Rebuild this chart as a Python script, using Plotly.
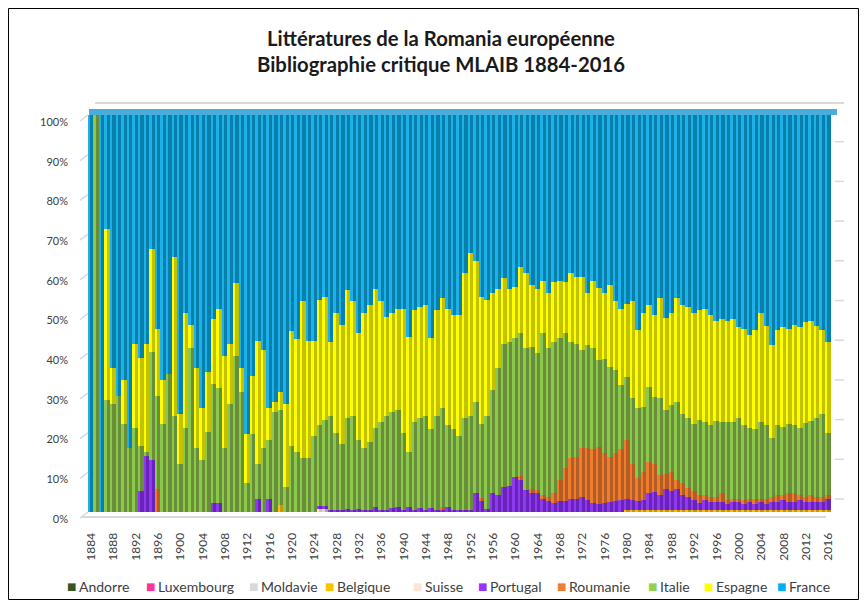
import plotly.graph_objects as go

# ---------------- data (share of records per year, %) ----------------
years = list(range(1884, 2017))

year_ticks = [1884, 1888, 1892, 1896, 1900, 1904, 1908, 1912, 1916, 1920, 1924,
              1928, 1932, 1936, 1940, 1944, 1948, 1952, 1956, 1960, 1964, 1968,
              1972, 1976, 1980, 1984, 1988, 1992, 1996, 2000, 2004, 2008, 2012, 2016]

pct_ticks = [0, 10, 20, 30, 40, 50, 60, 70, 80, 90, 100]
pct_labels = ["0%", "10%", "20%", "30%", "40%", "50%", "60%", "70%", "80%", "90%", "100%"]

andorre = [
    0, 0, 0, 0, 0, 0, 0, 0, 0, 0,
    0, 0, 0, 0, 0, 0, 0, 0, 0, 0,
    0, 0, 0, 0, 0, 0, 0, 0, 0, 0,
    0, 0, 0, 0, 0, 0, 0, 0, 0, 0,
    0, 0, 0, 0, 0, 0, 0, 0, 0, 0,
    0, 0, 0, 0, 0, 0, 0, 0, 0, 0,
    0, 0, 0, 0, 0, 0, 0, 0, 0, 0,
    0, 0, 0, 0, 0, 0, 0, 0, 0, 0,
    0, 0, 0, 0, 0, 0, 0, 0, 0, 0,
    0, 0, 0, 0, 0, 0, 0, 0, 0, 0,
    0, 0, 0, 0, 0, 0, 0, 0, 0, 0,
    0, 0, 0, 0, 0, 0, 0, 0, 0, 0,
    0, 0, 0, 0, 0, 0, 0, 0, 0, 0,
    0, 0, 0]

luxembourg = [
    0, 0, 0, 0, 0, 0, 0, 0, 0, 0,
    0, 0, 0, 0, 0, 0, 0, 0, 0, 0,
    0, 0, 0, 0, 0, 0, 0, 0, 0, 0,
    0, 0, 0, 0, 0, 0, 0, 0, 0, 0,
    0, 0, 0, 0, 0, 0, 0, 0, 0, 0,
    0, 0, 0, 0, 0, 0, 0, 0, 0, 0,
    0, 0, 0, 0, 0, 0, 0, 0, 0, 0,
    0, 0, 0, 0, 0, 0, 0, 0, 0, 0,
    0, 0, 0, 0, 0, 0, 0, 0, 0, 0,
    0, 0, 0, 0, 0, 0, 0, 0, 0, 0,
    0, 0, 0, 0, 0, 0, 0, 0, 0, 0,
    0, 0, 0, 0, 0, 0, 0, 0, 0, 0,
    0, 0, 0, 0, 0, 0, 0, 0, 0, 0,
    0, 0, 0]

moldavie = [
    0, 0, 0, 0, 0, 0, 0, 0, 0, 0,
    0, 0, 0, 0, 0, 0, 0, 0, 0, 0,
    0, 0, 0, 0, 0, 0, 0, 0, 0, 0,
    0, 0, 0, 0, 0, 0, 0, 0, 0, 0,
    0, 0, 0.8, 0, 0, 0, 0, 0, 0, 0,
    0, 0, 0, 0, 0, 0, 0, 0, 0, 0,
    0, 0, 0, 0, 0, 0, 0, 0, 0, 0,
    0, 0, 0, 0, 0, 0, 0, 0, 0, 0,
    0, 0, 0, 0, 0, 0, 0, 0, 0, 0,
    0, 0, 0, 0, 0, 0, 0, 0, 0, 0,
    0, 0, 0, 0, 0, 0, 0, 0, 0, 0,
    0, 0, 0, 0, 0, 0, 0, 0, 0, 0,
    0, 0, 0, 0, 0, 0, 0, 0, 0, 0,
    0, 0, 0]

belgique = [
    0, 0, 0, 0, 0, 0, 0, 0, 0, 0,
    0, 0, 0, 0, 0, 0, 0, 0, 0, 0,
    0, 0, 0, 0, 0, 0, 0, 0, 0, 0,
    0, 0, 0, 0, 1.8, 0, 0, 0, 0, 0,
    0, 0, 0, 0, 0, 0, 0, 0, 0, 0,
    0, 0, 0, 0, 0, 0, 0, 0, 0, 0,
    0, 0, 0, 0, 0, 0, 0, 0, 0, 0,
    0, 0, 0, 0, 0, 0, 0, 0, 0, 0,
    0, 0, 0, 0, 0, 0, 0, 0, 0, 0,
    0, 0, 0, 0, 0, 0, 0.4, 0.4, 0.4, 0.4,
    0.4, 0.4, 0.4, 0.4, 0.4, 0.4, 0.4, 0.4, 0.4, 0.4,
    0.4, 0.4, 0.4, 0.4, 0.4, 0.4, 0.4, 0.4, 0.4, 0.4,
    0.4, 0.4, 0.4, 0.4, 0.4, 0.4, 0.4, 0.4, 0.4, 0.4,
    0.4, 0.4, 0.4]

suisse = [
    0, 0, 0, 0, 0, 0, 0, 0, 0, 0,
    0, 0, 0, 0, 0, 0, 0, 0, 0, 0,
    0, 0, 0, 0, 0, 0, 0, 0, 0, 0,
    0, 0, 0, 0, 0, 0, 0, 0, 0, 0,
    0, 0.8, 0, 0, 0, 0, 0, 0, 0, 0,
    0, 0, 0, 0, 0, 0, 0, 0, 0, 0,
    0, 0, 0, 0, 0, 0, 0, 0, 0, 0,
    0, 0, 0, 0, 0, 0, 0, 0, 0, 0,
    0, 0, 0, 0, 0, 0, 0, 0, 0, 0,
    0, 0, 0, 0, 0, 0, 0, 0, 0, 0,
    0, 0, 0, 0, 0, 0, 0, 0, 0, 0,
    0, 0, 0, 0, 0, 0, 0, 0, 0, 0,
    0, 0, 0, 0, 0, 0, 0, 0, 0, 0,
    0, 0, 0]

portugal = [
    0, 0, 0, 0, 0, 0, 0, 0, 0, 5.2,
    14.2, 13.2, 0, 0, 0, 0, 0, 0, 0, 0,
    0, 0, 2.2, 2.2, 0, 0, 0, 0, 0, 0,
    3.2, 0, 3.2, 0, 0, 0, 0, 0, 0, 0,
    0, 0.8, 0.6, 0.6, 0.6, 0.6, 0.8, 0.6, 0.8, 0.6,
    0.6, 1.2, 0.6, 0.6, 1.0, 1.3, 0.6, 1.3, 0.6, 1.0,
    0.6, 1.0, 0.6, 0.4, 1.3, 0.6, 0.6, 0.6, 0.6, 4.7,
    3.0, 0.8, 4.7, 4.2, 6.2, 6.5, 8.8, 8.0, 5.5, 4.7,
    4.7, 3.2, 2.7, 2.2, 2.7, 2.7, 3.2, 3.2, 3.8, 3.0,
    2.2, 2.0, 2.2, 2.4, 2.7, 3.0, 3.0, 2.6, 2.3, 2.6,
    4.3, 4.6, 3.8, 5.5, 5.0, 5.5, 3.8, 3.4, 2.6, 1.8,
    2.5, 2.0, 2.0, 2.0, 1.5, 2.0, 2.0, 1.5, 2.0, 1.5,
    2.0, 1.5, 2.0, 2.0, 2.5, 2.0, 2.0, 2.5, 2.0, 2.0,
    2.0, 2.0, 3.0]

roumanie = [
    0, 0, 0, 0, 0, 0, 0, 0, 0, 0,
    0, 0, 5.7, 0, 0, 0, 0, 0, 0, 0,
    0, 0, 0, 0, 0, 0, 0, 0, 0, 0,
    0, 0, 0, 0, 0, 0, 0, 0, 0, 0,
    0, 0, 0, 0, 0, 0, 0, 0, 0, 0,
    0, 0, 0, 0, 0, 0, 0, 0, 0, 0,
    0, 0, 0, 0.8, 0, 0, 0, 0, 0, 0,
    0.5, 0, 0, 0, 0, 0, 0, 1.0, 0, 1.0,
    0.8, 1.0, 1.0, 2.5, 5.3, 8.5, 10.4, 10.6, 12.3, 13.2,
    13.6, 14.3, 12.6, 11.4, 12.1, 12.8, 14.7, 9.2, 5.8, 7.1,
    7.9, 7.2, 5.0, 3.6, 4.8, 2.1, 3.0, 2.2, 2.2, 2.0,
    1.5, 1.5, 1.5, 2.5, 1.0, 1.0, 1.0, 1.0, 1.0, 1.5,
    1.0, 1.5, 1.5, 2.0, 1.5, 2.5, 2.5, 1.5, 1.5, 2.0,
    1.5, 1.5, 1.0]

italie = [
    0, 100, 0, 28.2, 27.2, 29.2, 22.2, 16.2, 21.2, 11.5,
    1, 27, 23.5, 22.2, 34.7, 24.2, 12.2, 21.2, 41.2, 16.2,
    13.2, 20.2, 30, 29, 16.2, 27.2, 39.2, 30.2, 7.2, 19.7,
    9, 16.2, 15, 25.2, 24, 6.2, 16.7, 15.2, 13.7, 13.7,
    19.2, 20.2, 21.8, 23.6, 19.2, 16.6, 22.8, 23.6, 17.4, 15.6,
    17, 20, 22.1, 23.6, 24.2, 24.4, 19.2, 13.9, 22.1, 22.8,
    23.6, 19.8, 23.6, 25, 20.7, 20.4, 18.6, 23, 23.6, 23,
    18.7, 23.5, 26, 32, 36, 36.2, 35, 36, 35.7, 35.8,
    34.5, 40.8, 37.5, 38, 35.8, 33.8, 29.1, 28.4, 24.7, 25.8,
    25.4, 22, 23.7, 22.7, 20.9, 16.1, 15.9, 16.5, 17.7, 16.4,
    18.9, 16.8, 19.5, 16.2, 16.8, 19.6, 17.6, 17.8, 17, 19,
    18.3, 18, 19.1, 17.8, 19.8, 19.3, 20.4, 19, 17.7, 17.4,
    19.3, 18.5, 14.7, 17.5, 17.1, 17.3, 17, 16.8, 18.6, 18.6,
    19.9, 20.9, 15.4]

espagne = [
    0, 0, 0, 43, 9, 0, 11, 0, 21, 22,
    27, 26, 17, 11, 0, 40, 12.5, 29, 6, 20,
    13, 15, 16.5, 20, 23, 15, 18.5, 6, 12.5, 14.5,
    31, 24.5, 8, 2.5, 4.5, 21, 29, 28.5, 39.5, 29.5,
    24, 31.5, 31, 18.5, 30.4, 30, 32.3, 29, 27, 34,
    34.6, 35, 30.5, 25, 25, 25.5, 31.4, 29, 28.1, 27.8,
    28, 23, 26.6, 27.6, 29.2, 28.6, 30.5, 36.6, 41, 35.5,
    32, 29, 24.5, 20, 16.7, 13.5, 12.9, 16.7, 19, 15.7,
    16.2, 13.2, 14, 15.2, 14.4, 12.9, 17.5, 17, 18.4, 13.2,
    17, 18, 16.7, 20.7, 17.5, 19.3, 18.5, 24.5, 19.6, 23.7,
    20.7, 20.6, 25.1, 23.1, 23.2, 26.2, 27.4, 27.8, 28, 27.6,
    28.5, 27.7, 25.2, 26, 25.5, 26, 22.8, 24.3, 23.4, 25,
    27.5, 25, 23.4, 23.9, 25.1, 24, 25.3, 25.4, 25.3, 25.2,
    23.1, 21, 23]

france = [
    100, 0, 100, 28.8, 63.8, 70.8, 66.8, 83.8, 57.8, 61.3,
    57.8, 33.8, 53.8, 66.8, 65.3, 35.8, 75.3, 49.8, 52.8, 63.8,
    73.8, 64.8, 51.3, 48.8, 60.8, 57.8, 42.3, 63.8, 80.3, 65.8,
    56.8, 59.3, 73.8, 72.3, 69.7, 72.8, 54.3, 56.3, 46.8, 56.8,
    56.8, 46.7, 45.8, 57.3, 49.8, 52.8, 44.1, 46.8, 54.8, 49.8,
    47.8, 43.8, 46.8, 50.8, 49.8, 48.8, 48.8, 55.8, 49.2, 48.4,
    47.8, 56.2, 49.2, 46.2, 48.8, 50.4, 50.3, 39.8, 34.8, 36.8,
    45.8, 46.7, 44.8, 43.8, 41.1, 43.8, 43.3, 38.3, 39.8, 42.8,
    43.8, 41.8, 44.8, 42.1, 41.8, 42.1, 39.8, 40.8, 40.8, 44.8,
    41.8, 43.7, 44.8, 42.8, 46.8, 48.8, 47.5, 46.8, 54.2, 49.8,
    47.8, 50.4, 46.2, 51.2, 49.8, 46.2, 47.8, 48.4, 49.8, 49.2,
    48.8, 50.4, 51.8, 51.3, 51.8, 51.3, 53.4, 53.8, 55.5, 54.2,
    49.8, 53.1, 58, 54.2, 53.4, 53.8, 52.8, 53.4, 52.2, 51.8,
    53.1, 54.2, 57.2]

series_names = ["Andorre", "Luxembourg", "Moldavie", "Belgique", "Suisse",
                "Portugal", "Roumanie", "Italie", "Espagne", "France"]
series_values = [andorre, luxembourg, moldavie, belgique, suisse,
                 portugal, roumanie, italie, espagne, france]

# ---------------- styling ----------------
front_colors = ["#375623", "#FF3399", "#D9D9D9", "#FFC000", "#FBE5D6",
                "#8E3BEB", "#ED7D31", "#8DC84E", "#FFFF00", "#1DB1E8"]
side_colors = ["#27401A", "#C2217A", "#A6A6A6", "#C99700", "#D6BFB0",
               "#6A22BC", "#B65B22", "#688E38", "#C2C200", "#0780AE"]
legend_colors = ["#375623", "#FF3399", "#D9D9D9", "#FFC000", "#FBE5D6",
                 "#9933FF", "#ED7D31", "#92D050", "#FFFF00", "#00B0F0"]

# The page adds an 8 px body margin, so the figure is 852x592 and every
# screen position S below maps to figure position S - 8.
OFF = 8
W, H = 852, 592
ML, MR, MT, MB = 80, 26, 107, 88           # column area: screen 88..834 x 115..512
PW, PH = W - ML - MR, H - MT - MB
xr = [1883.463, 2017.01]

fig = go.Figure()

# darker "side" of each 3-D column (full pitch)
for name, vals, col in zip(series_names, series_values, side_colors):
    fig.add_trace(go.Bar(x=years, y=vals, name=name, marker_color=col,
                         marker_line_width=0, width=1.0,
                         xaxis="x", yaxis="y", showlegend=False,
                         hoverinfo="skip"))

# lighter "front" face of each column
for name, vals, col in zip(series_names, series_values, front_colors):
    fig.add_trace(go.Bar(x=years, y=vals, name=name, marker_color=col,
                         marker_line_width=0, width=0.34, offset=-0.5,
                         xaxis="x2", yaxis="y", showlegend=False,
                         hovertemplate="%{x}: %{y:.1f}%<extra>" + name + "</extra>"))

txt_color = "#404040"
fig.update_layout(
    width=W, height=H,
    margin=dict(l=ML, r=MR, t=MT, b=MB, autoexpand=False),
    paper_bgcolor="white", plot_bgcolor="rgba(0,0,0,0)",
    barmode="stack", barnorm="percent", bargap=0,
    font=dict(family="Lato", size=12, color=txt_color),
    showlegend=False,
    title=dict(text="<b>Littératures de la Romania européenne</b><br>"
                    "<b>Bibliographie critique MLAIB 1884-2016</b>",
               x=(441 - OFF) / W, xanchor="center", xref="container",
               y=1 - 38 / H, yanchor="top", yref="container",
               font=dict(family="Lato", size=20.3, color="#1a1a1a")),
    xaxis=dict(range=xr, tickmode="array", tickvals=year_ticks,
               ticktext=[str(y) for y in year_ticks], tickangle=-90,
               showgrid=False, zeroline=False, showline=False,
               ticks="outside", ticklen=15, tickcolor="rgba(0,0,0,0)",
               tickfont=dict(family="Lato", size=12, color=txt_color)),
    xaxis2=dict(range=xr, overlaying="x", visible=False),
    # percentage labels sit on the front edge of the 3-D floor, 7 px lower
    yaxis=dict(range=[0, 100], tickmode="array", tickvals=pct_ticks,
               ticktext=pct_labels, showgrid=False, zeroline=False,
               showline=False, ticks="", ticklabelshift=7,
               ticklabelstandoff=19,
               tickfont=dict(family="Lato", size=11, color=txt_color)),
)

def px_x(s):
    return (s - OFF - ML) / PW

def px_y(s):
    return (H - MB - (s - OFF)) / PH

GRID = "#D9D9D9"
PX_PER_PCT = PH / 100.0
shapes = [
    # 3-D caps on top of the columns (lighter top faces)
    dict(type="rect", xref="paper", yref="paper", x0=px_x(89), x1=px_x(837),
         y0=px_y(115), y1=px_y(109), fillcolor="#4AACD9", line=dict(width=0),
         layer="below"),
    # back-wall top edge and floor edge
    dict(type="line", xref="paper", yref="paper", x0=px_x(95), x1=px_x(844),
         y0=px_y(103), y1=px_y(103), line=dict(color=GRID, width=2)),
    dict(type="line", xref="paper", yref="paper", x0=px_x(82), x1=px_x(826),
         y0=px_y(517), y1=px_y(517), line=dict(color=GRID, width=2)),
    # chart border
    dict(type="rect", xref="paper", yref="paper", x0=px_x(8.5), x1=px_x(858.5),
         y0=px_y(599.5), y1=px_y(8.5), line=dict(color="#000000", width=1)),
]
# short grid stubs: side wall (left, slanted) and back wall (right)
for v in pct_ticks:
    y_front = 512 - v * PX_PER_PCT
    shapes.append(dict(type="line", xref="paper", yref="paper",
                       x0=px_x(80), x1=px_x(88), y0=px_y(y_front + 6), y1=px_y(y_front),
                       line=dict(color=GRID, width=1.5)))
    if v < 100:
        y_back = 499 - v * PX_PER_PCT
        shapes.append(dict(type="line", xref="paper", yref="paper",
                           x0=px_x(835), x1=px_x(844), y0=px_y(y_back), y1=px_y(y_back),
                           line=dict(color=GRID, width=1.5)))
fig.update_layout(shapes=shapes)

# legend drawn as text items in one row along the bottom
legend_text_x = [78, 157, 260, 336, 424, 489, 568, 659, 715, 788]
annotations = []
for name, col, tx in zip(series_names, legend_colors, legend_text_x):
    annotations.append(dict(xref="paper", yref="paper", x=px_x(tx - 7), y=px_y(586),
                            text="■", showarrow=False, xanchor="center", yanchor="middle",
                            font=dict(family="DejaVu Sans", size=10, color=col)))
    annotations.append(dict(xref="paper", yref="paper", x=px_x(tx - 1), y=px_y(586),
                            text=name, showarrow=False, xanchor="left", yanchor="middle",
                            font=dict(family="Lato", size=14, color=txt_color)))
fig.update_layout(annotations=annotations)

fig.write_html("out.html")
